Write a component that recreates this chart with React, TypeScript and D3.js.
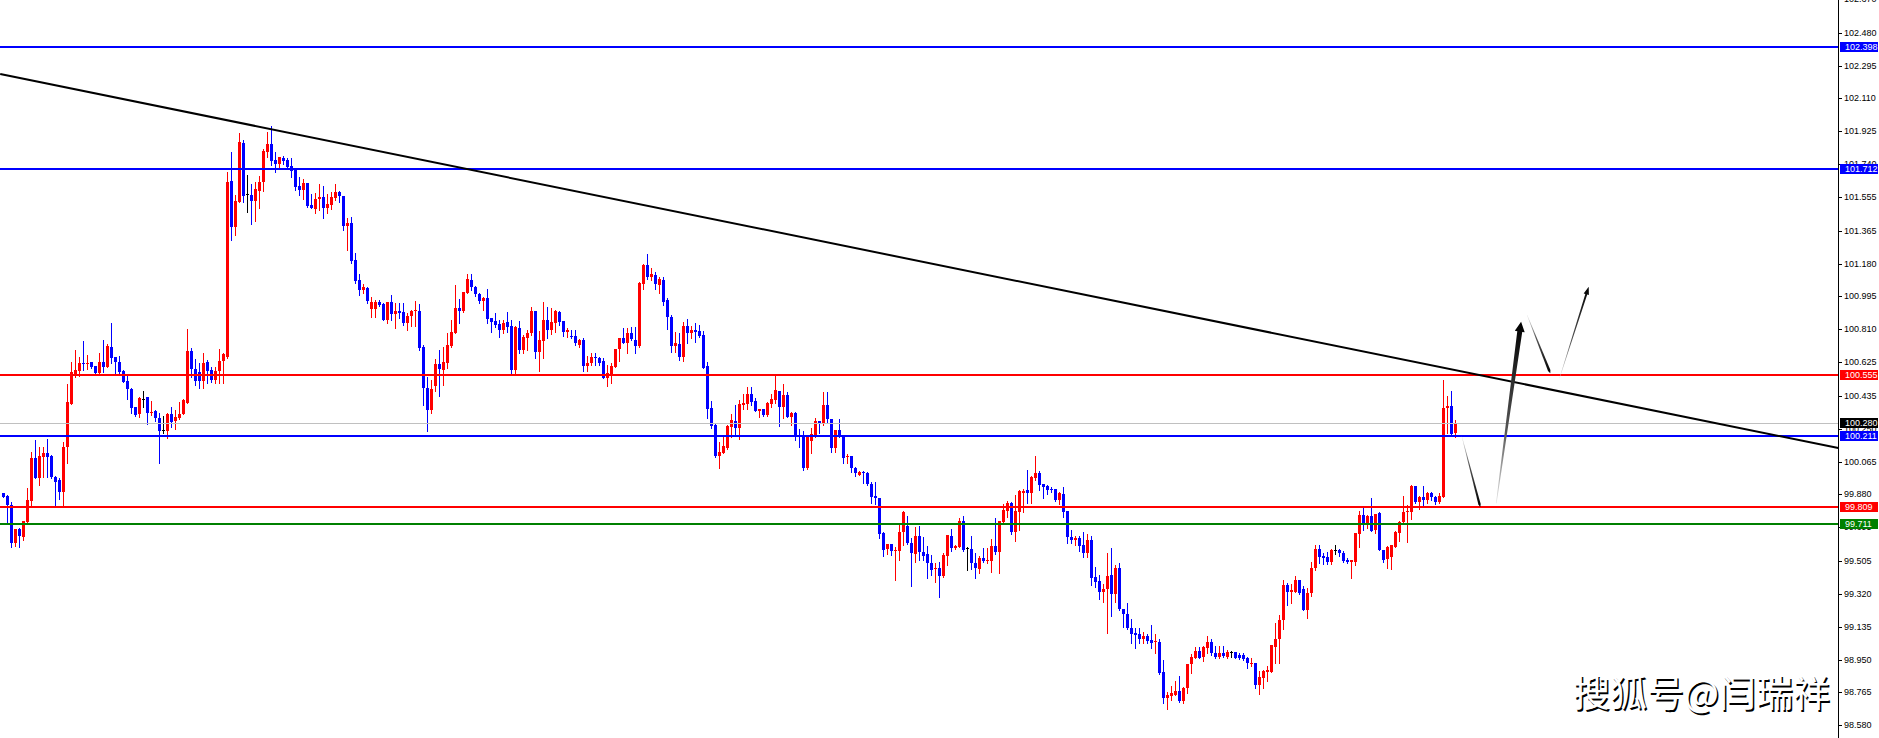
import React from 'react';
import * as d3 from 'd3';

// ---- candle data (bar index 0 .. 363), prices ----
const opens = [
  99.886, 99.870, 99.821, 99.609, 99.685, 99.642, 99.727, 99.843, 100.085, 99.975,
  100.093, 100.113, 100.097, 99.980, 99.960, 99.896, 100.147, 100.391, 100.558, 100.575,
  100.622, 100.616, 100.624, 100.603, 100.562, 100.626, 100.600, 100.710, 100.652, 100.628,
  100.575, 100.517, 100.476, 100.373, 100.333, 100.419, 100.427, 100.337, 100.348, 100.312,
  100.241, 100.237, 100.333, 100.292, 100.309, 100.333, 100.397, 100.688, 100.588, 100.571,
  100.519, 100.628, 100.581, 100.525, 100.575, 100.632, 100.656, 101.645, 101.388, 101.528,
  101.860, 101.570, 101.566, 101.534, 101.591, 101.638, 101.810, 101.853, 101.763, 101.741,
  101.775, 101.763, 101.730, 101.713, 101.617, 101.595, 101.632, 101.510, 101.489, 101.542,
  101.553, 101.495, 101.510, 101.551, 101.581, 101.561, 101.394, 101.407, 101.200, 101.088,
  101.031, 101.040, 100.924, 100.924, 100.966, 100.953, 100.862, 100.962, 100.896, 100.913,
  100.909, 100.844, 100.884, 100.912, 100.913, 100.712, 100.481, 100.355, 100.490, 100.614,
  100.580, 100.618, 100.717, 100.791, 100.928, 100.913, 101.016, 101.087, 101.050, 101.006,
  100.971, 100.988, 100.871, 100.856, 100.839, 100.806, 100.849, 100.828, 100.580, 100.815,
  100.693, 100.759, 100.787, 100.913, 100.683, 100.745, 100.862, 100.806, 100.847, 100.909,
  100.856, 100.796, 100.774, 100.772, 100.721, 100.749, 100.603, 100.622, 100.655, 100.650,
  100.631, 100.537, 100.552, 100.599, 100.697, 100.759, 100.734, 100.787, 100.749, 100.715,
  101.066, 101.172, 101.107, 101.116, 101.060, 101.088, 100.975, 100.881, 100.716, 100.727,
  100.656, 100.829, 100.791, 100.806, 100.801, 100.778, 100.603, 100.365, 100.271, 100.097,
  100.115, 100.140, 100.262, 100.294, 100.256, 100.384, 100.390, 100.446, 100.408, 100.352,
  100.361, 100.328, 100.390, 100.412, 100.463, 100.375, 100.440, 100.318, 100.341, 100.215,
  100.215, 100.027, 100.183, 100.206, 100.294, 100.281, 100.384, 100.305, 100.140, 100.243,
  100.215, 100.089, 100.097, 100.031, 99.990, 100.008, 100.003, 99.939, 99.871, 99.858,
  99.665, 99.571, 99.601, 99.564, 99.563, 99.671, 99.702, 99.605, 99.543, 99.646,
  99.558, 99.545, 99.496, 99.464, 99.468, 99.423, 99.534, 99.646, 99.577, 99.586,
  99.731, 99.577, 99.571, 99.496, 99.458, 99.520, 99.507, 99.507, 99.590, 99.558,
  99.727, 99.787, 99.834, 99.671, 99.783, 99.890, 99.905, 99.886, 99.975, 100.003,
  99.939, 99.930, 99.911, 99.911, 99.849, 99.883, 99.787, 99.642, 99.624, 99.633,
  99.595, 99.552, 99.624, 99.417, 99.393, 99.333, 99.346, 99.427, 99.318, 99.468,
  99.233, 99.205, 99.130, 99.102, 99.094, 99.066, 99.083, 99.060, 99.047, 99.051,
  98.882, 98.736, 98.747, 98.751, 98.773, 98.719, 98.792, 98.925, 98.961, 98.998,
  98.966, 99.017, 99.051, 98.985, 98.966, 98.989, 98.966, 98.991, 98.993, 98.974,
  98.976, 98.961, 98.925, 98.929, 98.807, 98.845, 98.882, 98.882, 99.023, 99.064,
  99.173, 99.370, 99.333, 99.333, 99.398, 99.346, 99.229, 99.323, 99.464, 99.571,
  99.533, 99.530, 99.501, 99.567, 99.567, 99.552, 99.511, 99.498, 99.501, 99.657,
  99.764, 99.708, 99.759, 99.680, 99.774, 99.567, 99.516, 99.530, 99.586, 99.661,
  99.727, 99.783, 99.783, 99.928, 99.839, 99.867, 99.849, 99.890, 99.867, 99.839,
  99.867, 100.369, 100.380, 100.224,
];

const highs = [
  99.890, 99.875, 99.839, 99.687, 99.690, 99.731, 99.918, 100.121, 100.187, 100.149,
  100.149, 100.190, 100.100, 99.985, 99.970, 100.177, 100.502, 100.624, 100.693, 100.656,
  100.744, 100.665, 100.628, 100.606, 100.675, 100.750, 100.727, 100.847, 100.655, 100.660,
  100.578, 100.547, 100.478, 100.375, 100.431, 100.464, 100.431, 100.406, 100.356, 100.339,
  100.320, 100.337, 100.371, 100.356, 100.401, 100.416, 100.812, 100.703, 100.641, 100.618,
  100.675, 100.637, 100.600, 100.600, 100.699, 100.675, 101.697, 101.810, 101.566, 101.917,
  101.876, 101.679, 101.630, 101.641, 101.675, 101.824, 101.919, 101.955, 101.810, 101.778,
  101.788, 101.773, 101.773, 101.717, 101.666, 101.657, 101.634, 101.572, 101.576, 101.628,
  101.617, 101.572, 101.585, 101.626, 101.589, 101.563, 101.435, 101.441, 101.238, 101.122,
  101.065, 101.050, 100.990, 100.975, 100.975, 100.956, 100.966, 101.003, 100.956, 100.956,
  100.956, 100.904, 100.918, 100.969, 100.950, 100.721, 100.543, 100.524, 100.642, 100.693,
  100.712, 100.787, 100.862, 101.059, 100.978, 101.021, 101.119, 101.121, 101.053, 101.012,
  100.993, 101.036, 100.873, 100.903, 100.862, 100.862, 100.909, 100.862, 100.826, 100.858,
  100.777, 100.806, 100.933, 100.915, 100.802, 100.965, 100.933, 100.928, 100.918, 100.911,
  100.858, 100.815, 100.806, 100.806, 100.753, 100.759, 100.659, 100.678, 100.674, 100.655,
  100.646, 100.608, 100.622, 100.699, 100.761, 100.815, 100.815, 100.821, 100.821, 101.074,
  101.176, 101.234, 101.153, 101.135, 101.107, 101.107, 100.985, 100.891, 100.797, 100.787,
  100.853, 100.868, 100.829, 100.847, 100.834, 100.801, 100.624, 100.406, 100.284, 100.177,
  100.206, 100.271, 100.331, 100.384, 100.412, 100.446, 100.487, 100.487, 100.421, 100.363,
  100.363, 100.399, 100.446, 100.558, 100.465, 100.502, 100.459, 100.343, 100.343, 100.247,
  100.239, 100.215, 100.253, 100.309, 100.296, 100.455, 100.455, 100.307, 100.245, 100.305,
  100.217, 100.106, 100.099, 100.033, 100.010, 100.010, 100.005, 99.948, 99.948, 99.862,
  99.667, 99.603, 99.603, 99.586, 99.708, 99.785, 99.759, 99.633, 99.695, 99.702,
  99.642, 99.590, 99.539, 99.492, 99.502, 99.552, 99.654, 99.684, 99.595, 99.749,
  99.759, 99.586, 99.646, 99.552, 99.534, 99.577, 99.580, 99.629, 99.746, 99.733,
  99.826, 99.843, 99.836, 99.877, 99.905, 99.909, 100.018, 99.982, 100.097, 100.014,
  99.941, 99.932, 99.920, 99.913, 99.896, 99.920, 99.789, 99.680, 99.646, 99.646,
  99.670, 99.657, 99.646, 99.473, 99.427, 99.376, 99.548, 99.580, 99.483, 99.496,
  99.235, 99.271, 99.177, 99.126, 99.126, 99.107, 99.094, 99.145, 99.094, 99.064,
  98.948, 98.769, 98.801, 98.829, 98.858, 98.794, 98.927, 98.980, 99.023, 99.023,
  99.025, 99.083, 99.064, 99.027, 99.027, 99.027, 99.004, 99.000, 98.995, 98.985,
  98.985, 98.963, 98.957, 98.931, 98.888, 98.890, 98.914, 99.034, 99.158, 99.201,
  99.398, 99.383, 99.376, 99.421, 99.400, 99.364, 99.351, 99.501, 99.595, 99.595,
  99.548, 99.558, 99.571, 99.595, 99.571, 99.561, 99.520, 99.513, 99.665, 99.789,
  99.811, 99.764, 99.862, 99.772, 99.783, 99.569, 99.588, 99.597, 99.672, 99.729,
  99.871, 99.820, 99.933, 99.930, 99.869, 99.928, 99.892, 99.892, 99.869, 99.886,
  100.524, 100.434, 100.464, 100.299,
];

const lows = [
  99.865, 99.720, 99.586, 99.590, 99.586, 99.624, 99.727, 99.821, 99.975, 99.933,
  99.980, 99.980, 99.975, 99.817, 99.853, 99.821, 100.059, 100.391, 100.540, 100.547,
  100.581, 100.585, 100.594, 100.562, 100.560, 100.571, 100.598, 100.618, 100.566, 100.566,
  100.511, 100.419, 100.337, 100.324, 100.314, 100.374, 100.277, 100.327, 100.296, 100.059,
  100.224, 100.196, 100.258, 100.250, 100.303, 100.333, 100.397, 100.540, 100.498, 100.481,
  100.481, 100.506, 100.515, 100.510, 100.510, 100.510, 100.650, 101.312, 101.341, 101.528,
  101.529, 101.472, 101.400, 101.422, 101.495, 101.589, 101.782, 101.735, 101.698, 101.722,
  101.741, 101.722, 101.670, 101.595, 101.566, 101.544, 101.501, 101.495, 101.467, 101.482,
  101.439, 101.467, 101.489, 101.538, 101.525, 101.369, 101.257, 101.182, 101.069, 101.003,
  101.016, 100.956, 100.881, 100.881, 100.940, 100.862, 100.844, 100.862, 100.816, 100.872,
  100.834, 100.806, 100.828, 100.828, 100.693, 100.383, 100.237, 100.340, 100.464, 100.434,
  100.496, 100.590, 100.712, 100.791, 100.847, 100.909, 101.016, 101.031, 100.999, 100.956,
  100.918, 100.847, 100.796, 100.824, 100.768, 100.787, 100.796, 100.565, 100.561, 100.674,
  100.674, 100.693, 100.777, 100.650, 100.577, 100.646, 100.762, 100.783, 100.796, 100.834,
  100.772, 100.764, 100.759, 100.721, 100.712, 100.577, 100.577, 100.608, 100.608, 100.608,
  100.537, 100.492, 100.505, 100.597, 100.633, 100.730, 100.674, 100.749, 100.674, 100.712,
  101.037, 101.093, 101.088, 101.037, 101.016, 100.947, 100.812, 100.684, 100.684, 100.637,
  100.632, 100.735, 100.759, 100.741, 100.769, 100.590, 100.313, 100.252, 100.093, 100.031,
  100.112, 100.136, 100.206, 100.219, 100.192, 100.361, 100.361, 100.384, 100.352, 100.318,
  100.324, 100.324, 100.375, 100.393, 100.268, 100.309, 100.314, 100.271, 100.187, 100.149,
  100.018, 100.025, 100.112, 100.202, 100.228, 100.271, 100.281, 100.121, 100.121, 100.206,
  100.059, 100.055, 100.005, 99.984, 99.988, 99.943, 99.933, 99.830, 99.825, 99.637,
  99.534, 99.545, 99.539, 99.398, 99.511, 99.595, 99.603, 99.365, 99.502, 99.511,
  99.511, 99.412, 99.427, 99.389, 99.305, 99.417, 99.483, 99.564, 99.571, 99.584,
  99.564, 99.455, 99.458, 99.412, 99.440, 99.502, 99.496, 99.445, 99.545, 99.440,
  99.725, 99.755, 99.657, 99.620, 99.680, 99.783, 99.830, 99.834, 99.961, 99.905,
  99.862, 99.883, 99.896, 99.843, 99.826, 99.755, 99.609, 99.609, 99.595, 99.564,
  99.530, 99.526, 99.370, 99.361, 99.291, 99.276, 99.102, 99.198, 99.276, 99.230,
  99.136, 99.121, 99.042, 99.017, 99.042, 99.042, 99.042, 99.014, 98.989, 98.869,
  98.704, 98.670, 98.722, 98.749, 98.713, 98.707, 98.764, 98.876, 98.959, 98.959,
  98.942, 98.989, 98.976, 98.961, 98.961, 98.966, 98.961, 98.966, 98.959, 98.951,
  98.947, 98.901, 98.914, 98.788, 98.754, 98.788, 98.829, 98.878, 98.933, 98.933,
  99.120, 99.257, 99.267, 99.331, 99.321, 99.227, 99.182, 99.308, 99.455, 99.496,
  99.486, 99.486, 99.488, 99.543, 99.533, 99.501, 99.496, 99.411, 99.483, 99.586,
  99.680, 99.693, 99.674, 99.661, 99.565, 99.501, 99.464, 99.458, 99.584, 99.620,
  99.725, 99.614, 99.740, 99.830, 99.796, 99.815, 99.834, 99.849, 99.826, 99.830,
  99.865, 100.224, 100.220, 100.205,
];

const closes = [
  99.868, 99.820, 99.609, 99.687, 99.646, 99.731, 99.849, 100.085, 99.975, 100.097,
  100.113, 100.093, 99.980, 99.952, 99.896, 100.147, 100.399, 100.568, 100.581, 100.620,
  100.613, 100.622, 100.600, 100.562, 100.626, 100.600, 100.716, 100.650, 100.628, 100.571,
  100.515, 100.476, 100.369, 100.327, 100.425, 100.419, 100.337, 100.342, 100.312, 100.237,
  100.241, 100.335, 100.288, 100.318, 100.333, 100.414, 100.688, 100.586, 100.519, 100.519,
  100.622, 100.575, 100.525, 100.575, 100.632, 100.669, 101.641, 101.388, 101.532, 101.866,
  101.561, 101.570, 101.534, 101.600, 101.638, 101.816, 101.853, 101.760, 101.741, 101.778,
  101.760, 101.726, 101.703, 101.613, 101.595, 101.632, 101.504, 101.495, 101.542, 101.557,
  101.491, 101.516, 101.553, 101.581, 101.561, 101.394, 101.407, 101.197, 101.084, 101.031,
  101.050, 100.969, 100.966, 100.962, 100.947, 100.862, 100.966, 100.896, 100.913, 100.904,
  100.844, 100.885, 100.914, 100.917, 100.706, 100.477, 100.355, 100.471, 100.614, 100.584,
  100.627, 100.721, 100.796, 100.928, 100.913, 101.021, 101.091, 101.046, 101.006, 100.971,
  100.988, 100.868, 100.852, 100.834, 100.806, 100.847, 100.824, 100.580, 100.824, 100.693,
  100.768, 100.787, 100.913, 100.683, 100.749, 100.862, 100.806, 100.853, 100.913, 100.852,
  100.796, 100.806, 100.768, 100.730, 100.749, 100.603, 100.622, 100.655, 100.646, 100.622,
  100.537, 100.561, 100.603, 100.697, 100.759, 100.734, 100.787, 100.753, 100.717, 101.068,
  101.172, 101.107, 101.120, 101.063, 101.093, 100.966, 100.881, 100.716, 100.731, 100.656,
  100.829, 100.791, 100.806, 100.797, 100.772, 100.594, 100.361, 100.267, 100.097, 100.121,
  100.153, 100.266, 100.299, 100.256, 100.390, 100.397, 100.444, 100.399, 100.352, 100.361,
  100.328, 100.397, 100.418, 100.468, 100.375, 100.440, 100.318, 100.341, 100.206, 100.206,
  100.027, 100.215, 100.219, 100.294, 100.281, 100.384, 100.305, 100.140, 100.243, 100.215,
  100.084, 100.097, 100.027, 99.999, 100.008, 99.999, 99.937, 99.868, 99.858, 99.658,
  99.567, 99.601, 99.564, 99.567, 99.670, 99.783, 99.605, 99.549, 99.646, 99.558,
  99.533, 99.492, 99.455, 99.468, 99.423, 99.539, 99.652, 99.577, 99.590, 99.731,
  99.567, 99.577, 99.492, 99.464, 99.520, 99.505, 99.511, 99.590, 99.558, 99.731,
  99.793, 99.830, 99.671, 99.787, 99.900, 99.900, 99.886, 99.980, 100.003, 99.933,
  99.924, 99.905, 99.905, 99.849, 99.890, 99.783, 99.642, 99.624, 99.637, 99.590,
  99.552, 99.624, 99.412, 99.389, 99.333, 99.346, 99.421, 99.318, 99.468, 99.233,
  99.205, 99.130, 99.094, 99.089, 99.066, 99.083, 99.055, 99.046, 99.055, 98.873,
  98.732, 98.751, 98.760, 98.773, 98.719, 98.792, 98.925, 98.966, 98.998, 98.961,
  99.023, 99.051, 98.985, 98.966, 98.989, 98.970, 98.993, 98.991, 98.961, 98.961,
  98.951, 98.929, 98.929, 98.807, 98.850, 98.888, 98.891, 99.032, 99.064, 99.173,
  99.370, 99.333, 99.342, 99.398, 99.323, 99.229, 99.327, 99.464, 99.571, 99.530,
  99.524, 99.501, 99.567, 99.567, 99.548, 99.507, 99.498, 99.511, 99.661, 99.764,
  99.708, 99.759, 99.676, 99.770, 99.567, 99.511, 99.586, 99.595, 99.670, 99.727,
  99.783, 99.789, 99.928, 99.839, 99.867, 99.849, 99.890, 99.864, 99.839, 99.871,
  100.369, 100.380, 100.220, 100.280,
];

// ---- price axis labels ----
const priceTicks = [
  '102.670', '102.480', '102.295', '102.110', '101.925', '101.740', '101.555', '101.365',
  '101.180', '100.995', '100.810', '100.625', '100.435', '100.250', '100.065', '99.880',
  '99.695', '99.505', '99.320', '99.135', '98.950', '98.765', '98.580',
];

// ---- horizontal levels ----
const levelValues = [102.398, 101.712, 100.555, 100.280, 100.211, 99.809, 99.711];
const levelLabels = ['102.398', '101.712', '100.555', '100.280', '100.211', '99.809', '99.711'];
const levelRoles = ['major', 'major', 'resist', 'bid', 'major', 'resist', 'support'];

// ---- trend line: [bar, price] ----
const trendStart = [-0.825, 102.247];
const trendEnd = [458.7, 100.141];

// ---- projected path arrows: [bar0, price0, bar1, price1] ----
const projection = [
  [364.6, 100.205, 369.2, 99.808],
  [373.2, 99.830, 379.4, 100.853],
  [380.9, 100.890, 386.7, 100.562],
  [389.0, 100.534, 396.3, 101.050],
];

const watermark = '搜狐号@闫瑞祥';

function arrowPolygon(x0: number, y0: number, x1: number, y1: number, w0: number, w1: number, hw: number, hl: number) {
  const dx = x1 - x0, dy = y1 - y0;
  const L = Math.hypot(dx, dy);
  const ux = dx / L, uy = dy / L;
  const nx = -uy, ny = ux;
  const sx = x1 - ux * hl, sy = y1 - uy * hl;
  const pts = [
    [x0 + nx * w0 / 2, y0 + ny * w0 / 2],
    [sx + nx * w1 / 2, sy + ny * w1 / 2],
    [sx + nx * hw / 2, sy + ny * hw / 2],
    [x1, y1],
    [sx - nx * hw / 2, sy - ny * hw / 2],
    [sx - nx * w1 / 2, sy - ny * w1 / 2],
    [x0 - nx * w0 / 2, y0 - ny * w0 / 2],
  ];
  return pts.map((p) => p[0].toFixed(2) + ',' + p[1].toFixed(2)).join(' ');
}

export default function App() {
  const W = 1879;
  const H = 738;
  const axisX = 1838;
  const n = closes.length;

  const x = d3.scaleLinear().domain([0, n - 1]).range([3.5, 1455.5]);
  const y = d3.scaleLinear().domain([98.58, 102.48]).range([725.3, 32.7]);
  const ry = (v: number) => Math.round(y(v));

  const levelStyle: Record<string, { c: string; w: number; bg: string }> = {
    major: { c: '#0000ff', w: 2, bg: '#0000ff' },
    resist: { c: '#ff0000', w: 2, bg: '#ff0000' },
    bid: { c: '#c0c0c0', w: 1, bg: '#000000' },
    support: { c: '#008000', w: 2, bg: '#008000' },
  };

  const arrowStyle = [
    { w0: 0.3, w1: 2.4, hw: 2.4, hl: 3 },
    { w0: 0.6, w1: 5, hw: 10, hl: 10 },
    { w0: 0.3, w1: 2.6, hw: 2.6, hl: 3 },
    { w0: 0.3, w1: 2, hw: 5.5, hl: 8 },
  ];

  const candles = d3.range(n).map((i) => {
    const o = opens[i], c = closes[i], h = highs[i], l = lows[i];
    const color = c > o ? '#ff0000' : c < o ? '#0000ff' : '#000000';
    const cx = x(i);
    const top = ry(Math.max(o, c));
    const bot = ry(Math.min(o, c));
    const hy = ry(h);
    const ly = ry(l);
    return (
      <g key={i} fill={color}>
        <rect x={cx - 0.5} y={hy} width={1} height={Math.max(1, ly - hy + 1)} />
        <rect x={cx - 1.5} y={top} width={3} height={Math.max(1, bot - top)} />
      </g>
    );
  });

  const fontAxis = '"Liberation Sans", Arial, sans-serif';

  return (
    <svg width={W} height={H} style={{ display: 'block', background: '#ffffff' }}>
      <style>{'body{margin:0;overflow:hidden;background:#fff}'}</style>
      <defs>
        {projection.map((p, k) => (
          <linearGradient
            key={k}
            id={'ag' + k}
            gradientUnits="userSpaceOnUse"
            x1={x(p[0])}
            y1={y(p[1])}
            x2={x(p[2])}
            y2={y(p[3])}
          >
            <stop offset="0" stopColor="#e6e6e6" />
            <stop offset="0.4" stopColor="#555555" />
            <stop offset="1" stopColor="#000000" />
          </linearGradient>
        ))}
      </defs>

      <rect x={0} y={0} width={W} height={H} fill="#ffffff" />

      {/* candles */}
      <g shapeRendering="crispEdges">{candles}</g>

      {/* horizontal levels */}
      <g shapeRendering="crispEdges">
        {levelValues.map((v, k) => {
          const st = levelStyle[levelRoles[k]];
          const yy = ry(v);
          return (
            <rect key={k} x={0} y={st.w === 2 ? yy - 1 : yy} width={axisX} height={st.w} fill={st.c} />
          );
        })}
      </g>

      {/* trend line */}
      <line
        x1={x(trendStart[0])}
        y1={y(trendStart[1])}
        x2={x(trendEnd[0])}
        y2={y(trendEnd[1])}
        stroke="#000000"
        strokeWidth={2}
      />

      {/* projection arrows */}
      {projection.map((p, k) => {
        const s = arrowStyle[k];
        return (
          <polygon
            key={k}
            points={arrowPolygon(x(p[0]), y(p[1]), x(p[2]), y(p[3]), s.w0, s.w1, s.hw, s.hl)}
            fill={'url(#ag' + k + ')'}
          />
        );
      })}

      {/* price axis */}
      <rect x={axisX} y={0} width={1} height={H} fill="#000000" shapeRendering="crispEdges" />
      <g fontFamily={fontAxis} fontSize={9} fill="#000000">
        {priceTicks.map((t, k) => {
          const yy = ry(parseFloat(t));
          return (
            <g key={k}>
              <rect x={axisX} y={yy} width={4} height={1} fill="#000000" shapeRendering="crispEdges" />
              <text x={1844} y={yy + 3.3}>{t}</text>
            </g>
          );
        })}
      </g>

      {/* level labels */}
      <g fontFamily={fontAxis} fontSize={9}>
        {levelValues.map((v, k) => {
          const st = levelStyle[levelRoles[k]];
          const yy = ry(v);
          return (
            <g key={k}>
              <rect x={1840} y={yy - 5} width={38} height={10} fill={st.bg} shapeRendering="crispEdges" />
              <text x={1845} y={yy + 3.3} fill="#ffffff">{levelLabels[k]}</text>
            </g>
          );
        })}
      </g>

      {/* watermark */}
      <g fontFamily='"Noto Sans CJK SC", sans-serif' fontSize={37}>
        <text x={1574.5} y={708.5} fill="#000000">{watermark}</text>
        <text x={1573} y={707} fill="#ffffff">{watermark}</text>
      </g>
    </svg>
  );
}
